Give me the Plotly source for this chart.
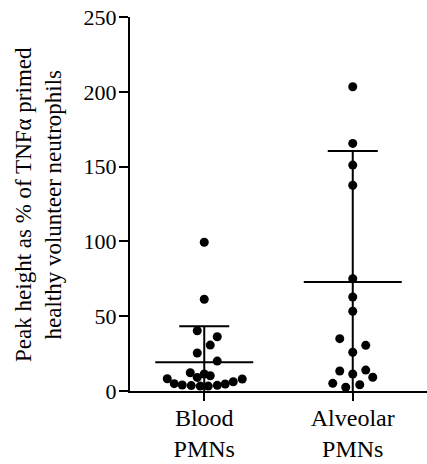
import plotly.graph_objects as go

# ---- data ----
categories = ["Blood<br>PMNs", "Alveolar<br>PMNs"]

blood_values = [99.4, 61.3, 40.3, 36.3, 30.7, 25.4, 20.0,
                12.2, 11.4, 10.2, 9.1, 8.2, 8.0, 6.2, 4.9,
                4.0, 3.6, 3.3, 3.3, 3.8, 4.7]
alveolar_values = [203.4, 165.5, 151.0, 137.5, 75.0, 62.8, 53.3,
                   35.0, 30.5, 25.9, 13.4, 14.0, 11.4, 9.2, 5.1, 4.2, 2.5]

group_means = [19.2, 72.9]
group_sds = [24.0, 87.5]

y_ticks = [0, 50, 100, 150, 200, 250]

# ---- scatter jitter (horizontal offsets in pixels, layout only) ----
px_per_unit = 148.5
blood_dx = [0, 0, -7, 13, 6, -7, 13, -14, 0, 6, -7, -37, 38, 29, -30,
            -22, -13, -4, 4, 13, 21]
alveolar_dx = [0, 0, 0, 0, 0, 0, 0, -13, 13, 0, -13, 13, 0, 20, -20, 7, -7]

family = "Liberation Serif, Times New Roman, serif"
tick_font = dict(family=family, size=22, color="black")
cat_font = dict(family=family, size=24, color="black")
title_font = dict(family=family, size=23, color="black")

fig = go.Figure()

# mean lines
mean_hw = 49 / px_per_unit
for i, m in enumerate(group_means):
    fig.add_trace(go.Scatter(
        x=[i - mean_hw, i + mean_hw], y=[m, m], mode="lines",
        line=dict(color="black", width=2), hoverinfo="skip", showlegend=False))

# SD error bars
fig.add_trace(go.Scatter(
    x=[0, 1], y=group_means, mode="markers",
    marker=dict(size=0.1, color="rgba(0,0,0,0)"),
    error_y=dict(type="data", array=group_sds, visible=True,
                 color="black", thickness=2, width=25),
    showlegend=False, hoverinfo="skip"))

# points
for i, (vals, dxs) in enumerate([(blood_values, blood_dx), (alveolar_values, alveolar_dx)]):
    fig.add_trace(go.Scatter(
        x=[i + d / px_per_unit for d in dxs], y=vals, mode="markers",
        marker=dict(size=9, color="black"), cliponaxis=False, showlegend=False))

fig.add_annotation(
    text="Peak height as % of TNF\u03b1 primed<br>healthy volunteer neutrophils",
    xref="paper", yref="paper", x=-0.31, y=0.5, xanchor="center", yanchor="middle",
    textangle=-90, showarrow=False, font=title_font)

fig.update_layout(
    width=427, height=464,
    margin=dict(l=130, r=0, t=17, b=73),
    paper_bgcolor="white", plot_bgcolor="white",
    font=tick_font, showlegend=False,
    xaxis=dict(range=[-0.5, 1.5], tickvals=[0, 1], ticktext=categories,
               ticks="outside", ticklen=8, tickwidth=2, tickcolor="black",
               ticklabelstandoff=-4,
               showline=True, linewidth=2, linecolor="black",
               showgrid=False, zeroline=False, tickfont=cat_font),
    yaxis=dict(range=[0, 250], tickvals=y_ticks, ticks="outside", ticklen=9,
               tickwidth=2, tickcolor="black", showline=True, linewidth=2,
               ticklabelstandoff=-2,
               linecolor="black", showgrid=False, zeroline=False, tickfont=tick_font),
)

fig.write_html("out.html")
